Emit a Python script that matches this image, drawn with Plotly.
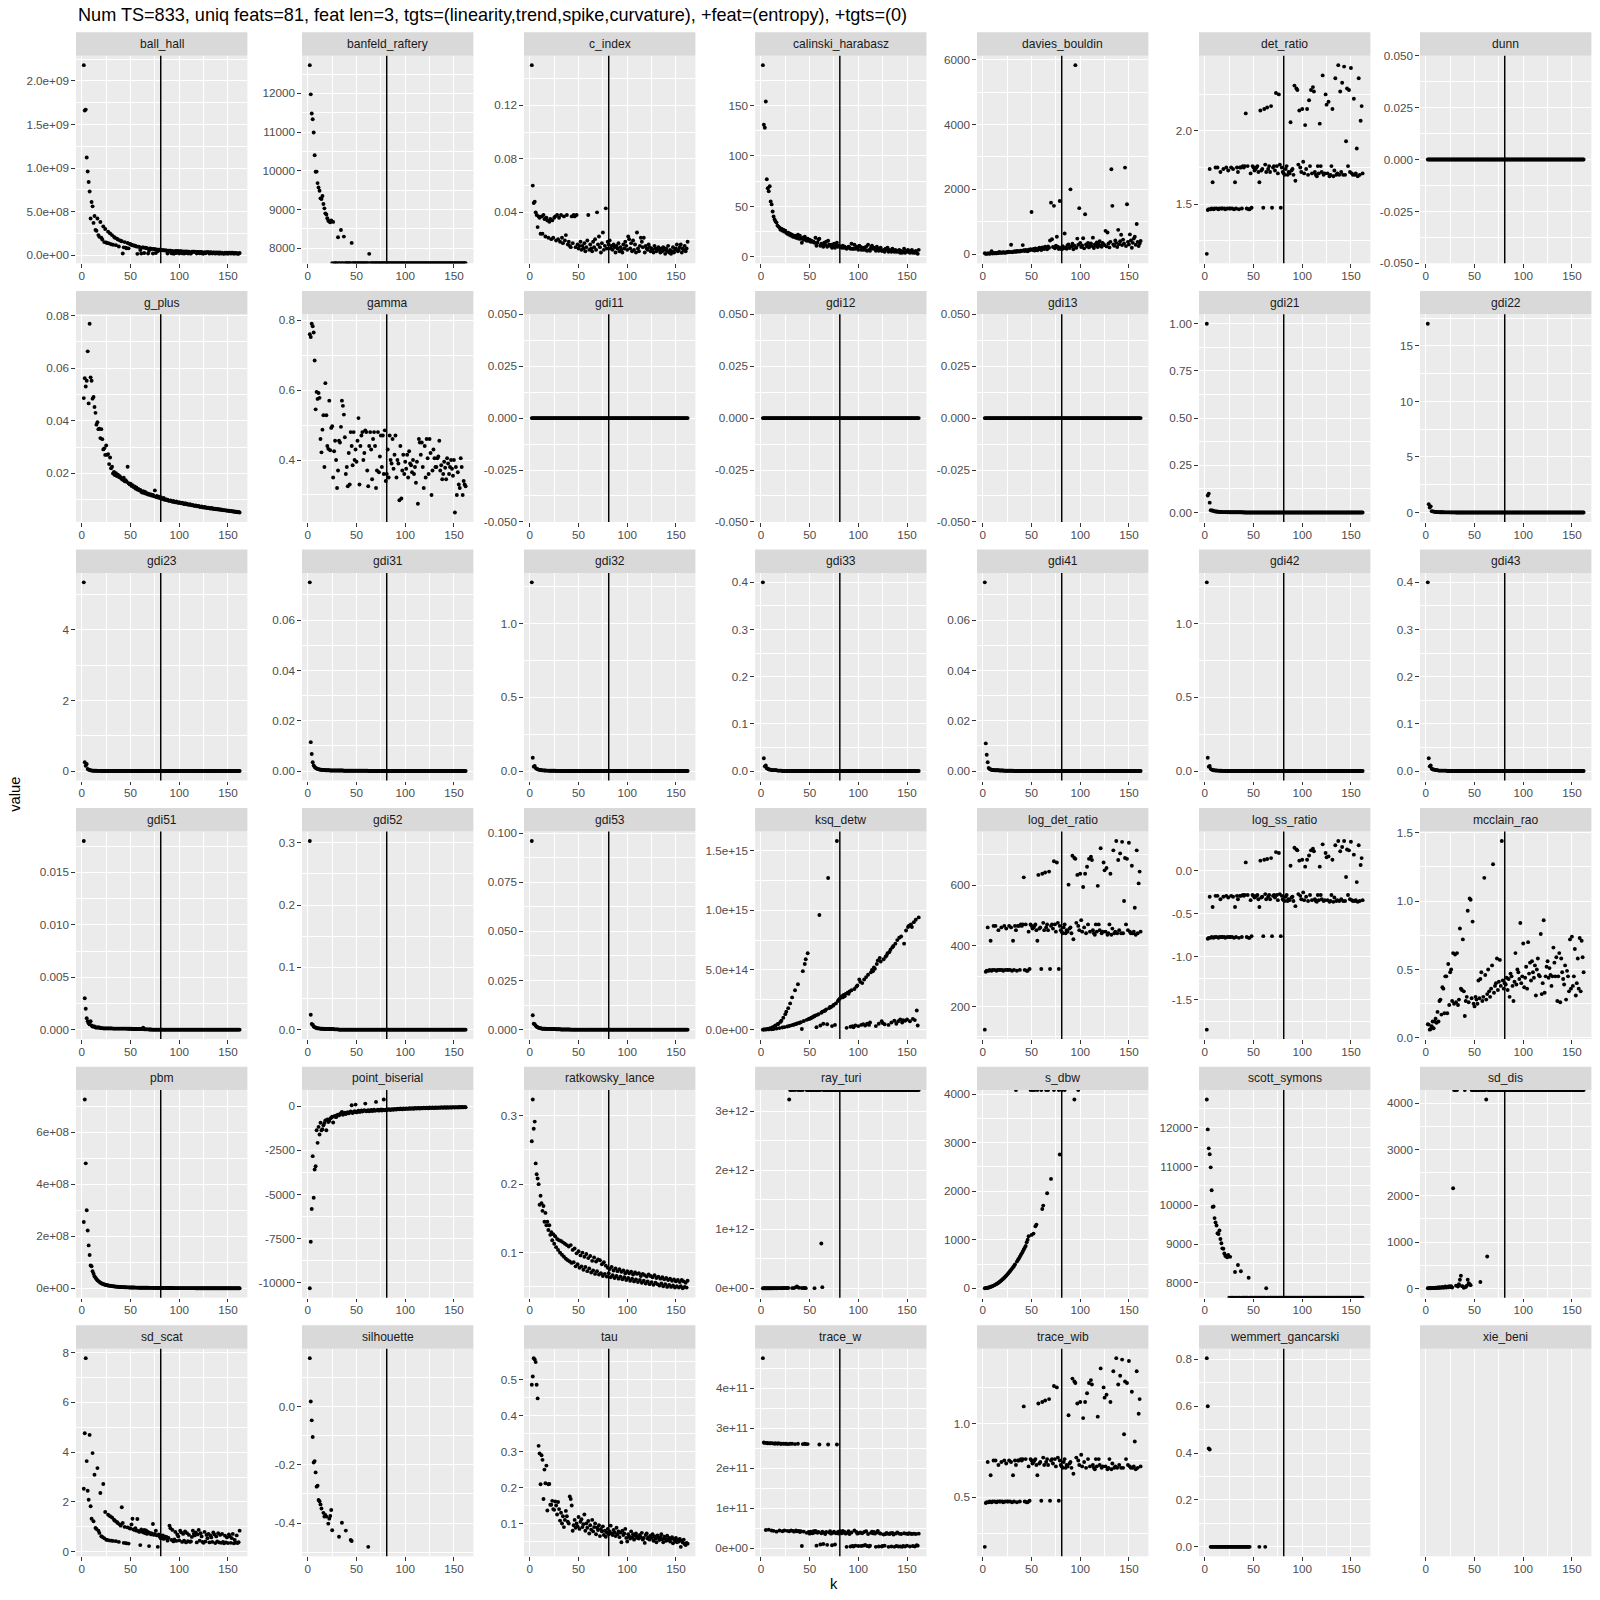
import math
import plotly.graph_objects as go

INF = float("inf")
NINF = float("-inf")

TITLE = "Num TS=833, uniq feats=81, feat len=3, tgts=(linearity,trend,spike,curvature), +feat=(entropy), +tgts=(0)"
X_TITLE = "k"
Y_TITLE = "value"
VLINE_K = 81

K = list(range(2, 163))
X_TICK_LABELS = ["0", "50", "100", "150"]

# ---------------------------------------------------------------- data (k = 2 .. 162)
BALL_HALL = [
    2.18e9, 1.66e9, 1.67e9, 1.12e9, 0.96e9, 0.84e9, 0.73e9, 0.42e9, 0.61e9, 0.56e9,
    0.37e9, 0.45e9, 0.29e9, 0.28e9, 0.42e9, 0.23e9, 0.21e9, 0.38e9, 0.20e9, 0.18e9,
    0.33e9, 0.15e9, 0.30e9, 0.145e9, 0.14e9, 0.27e9, 0.135e9, 0.25e9, 0.125e9, 0.23e9,
    0.12e9, 0.21e9, 0.20e9, 0.115e9, 0.19e9, 0.18e9, 0.10e9, 0.17e9, 0.165e9, 0.16e9,
    0.02e9, 0.09e9, 0.15e9, 0.085e9, 0.08e9, 0.14e9, 0.078e9, 0.13e9, 0.125e9, 0.12e9,
    0.115e9, 0.11e9, 0.112e9, 0.105e9, 0.10e9, 0.015e9, 0.098e9, 0.095e9, 0.06e9, 0.02e9,
    0.09e9, 0.088e9, 0.025e9, 0.085e9, 0.082e9, 0.08e9, 0.02e9, 0.05e9, 0.076e9, 0.074e9,
    0.072e9, 0.02e9, 0.07e9, 0.068e9, 0.025e9, 0.066e9, 0.045e9, 0.064e9, 0.062e9, 0.06e9,
    0.058e9, 0.057e9, 0.056e9, 0.055e9, 0.054e9, 0.053e9, 0.02e9, 0.052e9, 0.051e9, 0.05e9,
    0.022e9, 0.049e9, 0.018e9, 0.02e9, 0.048e9, 0.025e9, 0.047e9, 0.046e9, 0.02e9, 0.045e9,
    0.045e9, 0.022e9, 0.044e9, 0.018e9, 0.043e9, 0.025e9, 0.042e9, 0.02e9, 0.041e9, 0.022e9,
    0.018e9, 0.04e9, 0.04e9, 0.039e9, 0.039e9, 0.038e9, 0.02e9, 0.037e9, 0.037e9, 0.022e9,
    0.036e9, 0.036e9, 0.018e9, 0.02e9, 0.035e9, 0.022e9, 0.034e9, 0.034e9, 0.033e9, 0.018e9,
    0.033e9, 0.032e9, 0.02e9, 0.032e9, 0.031e9, 0.018e9, 0.031e9, 0.022e9, 0.030e9, 0.017e9,
    0.030e9, 0.02e9, 0.029e9, 0.018e9, 0.016e9, 0.029e9, 0.02e9, 0.028e9, 0.017e9, 0.028e9,
    0.027e9, 0.018e9, 0.027e9, 0.027e9, 0.016e9, 0.026e9, 0.019e9, 0.026e9, 0.015e9, 0.017e9,
    0.025e9,
]
BANFELD_RAFTERY = [
    12730, 11975, 11480, 11330, 10990, 10403, 9974, 9980, 9682, 9571,
    9485, 9288, 9270, 9350, 9142, 9030, 8901, 8870, 8773, 8712,
    8687, 8670, 8720, NINF, 8680, NINF, NINF, NINF, NINF, 8283,
    NINF, NINF, 8472, NINF, NINF, 8300, NINF, NINF, NINF, NINF,
    NINF, NINF, NINF, 8137, NINF, NINF, NINF, NINF, NINF, NINF,
    NINF, NINF, NINF, NINF, NINF, NINF, NINF, NINF, NINF, NINF,
    NINF, 7854, NINF, NINF, NINF, NINF, NINF, NINF, NINF, NINF,
    NINF, NINF, NINF, NINF, NINF, NINF, NINF, NINF, NINF, NINF,
    NINF, NINF, NINF, NINF, NINF, NINF, NINF, NINF, NINF, NINF,
    NINF, NINF, NINF, NINF, NINF, NINF, NINF, NINF, NINF, NINF,
    NINF, NINF, NINF, NINF, NINF, NINF, NINF, NINF, NINF, NINF,
    NINF, NINF, NINF, NINF, NINF, NINF, NINF, NINF, NINF, NINF,
    NINF, NINF, NINF, NINF, NINF, NINF, NINF, NINF, NINF, NINF,
    NINF, NINF, NINF, NINF, NINF, NINF, NINF, NINF, NINF, NINF,
    NINF, NINF, NINF, NINF, NINF, NINF, NINF, NINF, NINF, NINF,
    NINF, NINF, NINF, NINF, NINF, NINF, NINF, NINF, NINF, NINF,
    NINF,
]
C_INDEX = [
    0.150, 0.060, 0.047, 0.048, 0.040, 0.038, 0.029, 0.037, 0.036, 0.024,
    0.037, 0.024, 0.038, 0.035, 0.022, 0.036, 0.034, 0.021, 0.033, 0.035,
    0.020, 0.034, 0.021, 0.036, 0.037, 0.019, 0.038, 0.020, 0.036, 0.018,
    0.038, 0.021, 0.017, 0.037, 0.019, 0.023, 0.038, 0.016, 0.018, 0.015,
    0.014, 0.037, 0.017, 0.038, 0.037, 0.014, 0.038, 0.016, 0.013, 0.015,
    0.018, 0.012, 0.015, 0.013, 0.017, 0.011, 0.014, 0.019, 0.038, 0.012,
    0.016, 0.013, 0.011, 0.018, 0.014, 0.020, 0.012, 0.040, 0.016, 0.022,
    0.014, 0.010, 0.017, 0.025, 0.012, 0.015, 0.043, 0.013, 0.018, 0.016,
    0.019, 0.013, 0.015, 0.012, 0.016, 0.014, 0.010, 0.015, 0.013, 0.017,
    0.011, 0.014, 0.012, 0.010, 0.016, 0.013, 0.018, 0.015, 0.012, 0.022,
    0.020, 0.013, 0.017, 0.011, 0.019, 0.012, 0.016, 0.010, 0.025, 0.013,
    0.011, 0.015, 0.021, 0.018, 0.014, 0.021, 0.010, 0.015, 0.013, 0.012,
    0.016, 0.014, 0.011, 0.013, 0.012, 0.010, 0.015, 0.013, 0.011, 0.012,
    0.014, 0.012, 0.010, 0.013, 0.011, 0.014, 0.012, 0.009, 0.013, 0.011,
    0.015, 0.010, 0.012, 0.009, 0.011, 0.014, 0.010, 0.012, 0.013, 0.016,
    0.011, 0.012, 0.014, 0.016, 0.010, 0.013, 0.012, 0.015, 0.011, 0.013,
    0.018,
]
CALINSKI_HARABASZ = [
    190, 131, 128, 154, 77, 68, 65, 70, 55, 52,
    45, 40, 37, 35, 34, 31, 30, 29, 27, 28,
    26, 27, 25, 26, 24, 23, 24, 22, 23, 21,
    22, 20, 20, 21, 19, 19, 22, 18, 21, 18,
    14, 19, 17, 20, 18, 16, 18, 16, 17, 15,
    16, 15, 15, 14, 19, 11, 14, 17, 18, 11,
    13, 12, 10, 14, 12, 15, 10, 16, 12, 11,
    12, 9, 11, 13, 9, 11, 14, 10, 11, 10,
    10, 9, 11, 9, 10, 9, 8, 9, 10, 9,
    8, 13, 8, 8, 12, 8, 10, 9, 7, 11,
    10, 7, 9, 7, 9, 7, 10, 6, 12, 7,
    6, 9, 11, 8, 9, 8, 6, 10, 8, 6,
    8, 9, 6, 6, 7, 5, 8, 7, 9, 5,
    7, 6, 5, 8, 6, 5, 7, 5, 6, 5,
    7, 4, 6, 4, 5, 8, 4, 6, 5, 7,
    5, 4, 6, 7, 4, 5, 4, 6, 4, 3,
    7,
]
DAVIES_BOULDIN = [
    30, 10, 15, 20, 25, 15, 30, 90, 20, 35,
    25, 40, 30, 45, 35, 70, 40, 50, 45, 60,
    50, 40, 65, 55, 75, 60, 70, 290, 60, 80,
    75, 90, 70, 100, 85, 95, 80, 110, 95, 280,
    120, 100, 130, 110, 90, 140, 120, 150, 1300, 130,
    160, 110, 180, 140, 120, 170, 200, 150, 130, 210,
    180, 160, 230, 190, 150, 240, 200, 420, 1590, 460,
    220, 1490, 180, 260, 540, 230, 160, 1640, 200, 150,
    250, 180, 640, 210, 170, 280, 300, 190, 2000, 240,
    320, 150, 260, 5830, 200, 480, 290, 1420, 350, 220,
    270, 490, 180, 1230, 300, 240, 350, 210, 280, 330,
    250, 510, 190, 300, 270, 360, 220, 310, 400, 260,
    230, 350, 300, 280, 720, 240, 670, 330, 210, 380,
    2620, 1490, 300, 260, 420, 350, 220, 750, 310, 400,
    600, 280, 450, 330, 2670, 250, 1540, 380, 300, 610,
    420, 200, 350, 480, 540, 290, 930, 380, 250, 330,
    410,
]
DET_RATIO = [
    1.16, 1.46, 1.465, 1.74, 1.465, 1.47, 1.65, 1.465, 1.47, 1.75,
    1.47, 1.75, 1.465, 1.47, 1.72, 1.47, 1.47, 1.74, 1.47, 1.465,
    1.75, 1.47, 1.73, 1.47, 1.47, 1.75, 1.47, 1.74, 1.465, 1.65,
    1.47, 1.75, 1.72, 1.465, 1.75, 1.75, 1.47, 1.76, 1.75, 1.76,
    2.12, 1.47, 1.76, 1.465, 1.465, 1.71, 1.475, 1.76, 1.75, 1.73,
    1.74, 1.75, 1.76, 1.72, 1.65, 2.14, 1.73, 1.74, 1.475, 2.15,
    1.77, 1.72, 2.16, 1.74, 1.76, 1.72, 2.17, 1.475, 1.75, 1.76,
    1.73, 2.26, 1.76, 1.71, 2.25, 1.77, 1.475, 1.75, 1.72, 1.71,
    1.70, 1.74, 1.76, 1.70, 1.72, 1.71, 2.06, 1.73, 1.74, 1.70,
    2.31, 1.66, 2.29, 2.28, 1.77, 2.14, 1.75, 1.72, 2.15, 1.79,
    1.71, 2.04, 1.74, 2.15, 1.70, 2.21, 1.76, 2.28, 1.71, 2.30,
    2.27, 1.72, 1.70, 1.69, 1.76, 1.71, 2.05, 1.76, 1.72, 2.38,
    1.70, 1.71, 2.25, 2.18, 1.71, 2.20, 1.69, 1.70, 1.76, 2.15,
    1.69, 1.73, 2.36, 1.70, 1.71, 2.45, 1.70, 2.27, 1.72, 2.33,
    1.70, 2.44, 1.70, 1.93, 2.29, 1.76, 2.28, 1.72, 2.43, 1.71,
    1.70, 2.22, 1.70, 1.71, 1.88, 1.69, 2.36, 1.70, 2.07, 2.17,
    1.71,
]
DUNN = [
    0, 0, 0, 0, 0, 0, 0, 0, 0, 0,
    0, 0, 0, 0, 0, 0, 0, 0, 0, 0,
    0, 0, 0, 0, 0, 0, 0, 0, 0, 0,
    0, 0, 0, 0, 0, 0, 0, 0, 0, 0,
    0, 0, 0, 0, 0, 0, 0, 0, 0, 0,
    0, 0, 0, 0, 0, 0, 0, 0, 0, 0,
    0, 0, 0, 0, 0, 0, 0, 0, 0, 0,
    0, 0, 0, 0, 0, 0, 0, 0, 0, 0,
    0, 0, 0, 0, 0, 0, 0, 0, 0, 0,
    0, 0, 0, 0, 0, 0, 0, 0, 0, 0,
    0, 0, 0, 0, 0, 0, 0, 0, 0, 0,
    0, 0, 0, 0, 0, 0, 0, 0, 0, 0,
    0, 0, 0, 0, 0, 0, 0, 0, 0, 0,
    0, 0, 0, 0, 0, 0, 0, 0, 0, 0,
    0, 0, 0, 0, 0, 0, 0, 0, 0, 0,
    0, 0, 0, 0, 0, 0, 0, 0, 0, 0,
    0,
]
G_PLUS = [
    0.0486, 0.0562, 0.0530, 0.0552, 0.0664, 0.0466, 0.0769, 0.0565, 0.0552, 0.0484,
    0.0490, 0.0452, 0.0430, 0.0385, 0.0394, 0.0368, 0.0370, 0.0334, 0.0368, 0.0330,
    0.0291, 0.0295, 0.0270, 0.0306, 0.0270, 0.0273, 0.0235, 0.0260, 0.0219, 0.0225,
    0.0199, 0.0205, 0.0193, 0.0200, 0.0190, 0.0195, 0.0186, 0.0189, 0.0182, 0.0178,
    0.0175, 0.0183, 0.0170, 0.0174, 0.0168, 0.0225, 0.0162, 0.0158, 0.0160, 0.0152,
    0.0155, 0.0148, 0.0150, 0.0142, 0.0146, 0.0138, 0.0140, 0.0135, 0.0137, 0.0130,
    0.0127, 0.0132, 0.0125, 0.0129, 0.0122, 0.0124, 0.0119, 0.0121, 0.0117, 0.0120,
    0.0115, 0.0118, 0.0113, 0.0135, 0.0110, 0.0114, 0.0108, 0.0111, 0.0106, 0.0109,
    0.0104, 0.0102, 0.0106, 0.0099, 0.0101, 0.0098, 0.0100, 0.0096, 0.0095, 0.0097,
    0.0094, 0.0092, 0.0095, 0.0091, 0.0090, 0.0093, 0.0089, 0.0088, 0.0090, 0.0087,
    0.0086, 0.0088, 0.0085, 0.0083, 0.0086, 0.0082, 0.0084, 0.0081, 0.0080, 0.0082,
    0.0079, 0.0078, 0.0080, 0.0077, 0.0076, 0.0078, 0.0075, 0.0074, 0.0076, 0.0073,
    0.0072, 0.0074, 0.0071, 0.0070, 0.0072, 0.0069, 0.0070, 0.0068, 0.0069, 0.0067,
    0.0066, 0.0068, 0.0065, 0.0066, 0.0064, 0.0065, 0.0063, 0.0064, 0.0062, 0.0063,
    0.0061, 0.0062, 0.0060, 0.0061, 0.0059, 0.0060, 0.0058, 0.0059, 0.0057, 0.0058,
    0.0056, 0.0057, 0.0055, 0.0056, 0.0054, 0.0055, 0.0053, 0.0054, 0.0052, 0.0053,
    0.0051,
]
GAMMA = [
    0.760, 0.752, 0.790, 0.783, 0.765, 0.685, 0.545, 0.595, 0.575, 0.592,
    0.578, 0.460, 0.422, 0.487, 0.528, 0.380, 0.620, 0.528, 0.440, 0.432,
    0.570, 0.428, 0.492, 0.497, 0.350, 0.425, 0.455, 0.400, 0.320, 0.370,
    0.455, 0.450, 0.495, 0.570, 0.555, 0.530, 0.465, 0.360, 0.380, 0.325,
    0.420, 0.330, 0.480, 0.440, 0.385, 0.480, 0.400, 0.430, 0.395, 0.455,
    0.520, 0.330, 0.440, 0.470, 0.480, 0.400, 0.420, 0.485, 0.480, 0.370,
    0.325, 0.440, 0.480, 0.430, 0.345, 0.460, 0.480, 0.440, 0.320, 0.370,
    0.480, 0.365, 0.410, 0.470, 0.380, 0.470, 0.360, 0.485, 0.340, 0.360,
    0.430, 0.350, 0.470, 0.400, 0.390, 0.460, 0.375, 0.415, 0.470, 0.350,
    0.400, 0.390, 0.285, 0.440, 0.290, 0.370, 0.415, 0.360, 0.395, 0.375,
    0.415, 0.350, 0.425, 0.390, 0.385, 0.365, 0.400, 0.360, 0.380, 0.335,
    0.395, 0.275, 0.460, 0.450, 0.415, 0.450, 0.380, 0.320, 0.440, 0.350,
    0.460, 0.405, 0.360, 0.460, 0.420, 0.300, 0.370, 0.430, 0.405, 0.380,
    0.380, 0.405, 0.410, 0.455, 0.370, 0.385, 0.345, 0.360, 0.395, 0.378,
    0.345, 0.405, 0.390, 0.360, 0.380, 0.400, 0.375, 0.355, 0.400, 0.250,
    0.380, 0.300, 0.365, 0.330, 0.320, 0.405, 0.380, 0.300, 0.340, 0.330,
    0.325,
]
GDI11 = [
    0, 0, 0, 0, 0, 0, 0, 0, 0, 0,
    0, 0, 0, 0, 0, 0, 0, 0, 0, 0,
    0, 0, 0, 0, 0, 0, 0, 0, 0, 0,
    0, 0, 0, 0, 0, 0, 0, 0, 0, 0,
    0, 0, 0, 0, 0, 0, 0, 0, 0, 0,
    0, 0, 0, 0, 0, 0, 0, 0, 0, 0,
    0, 0, 0, 0, 0, 0, 0, 0, 0, 0,
    0, 0, 0, 0, 0, 0, 0, 0, 0, 0,
    0, 0, 0, 0, 0, 0, 0, 0, 0, 0,
    0, 0, 0, 0, 0, 0, 0, 0, 0, 0,
    0, 0, 0, 0, 0, 0, 0, 0, 0, 0,
    0, 0, 0, 0, 0, 0, 0, 0, 0, 0,
    0, 0, 0, 0, 0, 0, 0, 0, 0, 0,
    0, 0, 0, 0, 0, 0, 0, 0, 0, 0,
    0, 0, 0, 0, 0, 0, 0, 0, 0, 0,
    0, 0, 0, 0, 0, 0, 0, 0, 0, 0,
    0,
]
GDI12 = [
    0, 0, 0, 0, 0, 0, 0, 0, 0, 0,
    0, 0, 0, 0, 0, 0, 0, 0, 0, 0,
    0, 0, 0, 0, 0, 0, 0, 0, 0, 0,
    0, 0, 0, 0, 0, 0, 0, 0, 0, 0,
    0, 0, 0, 0, 0, 0, 0, 0, 0, 0,
    0, 0, 0, 0, 0, 0, 0, 0, 0, 0,
    0, 0, 0, 0, 0, 0, 0, 0, 0, 0,
    0, 0, 0, 0, 0, 0, 0, 0, 0, 0,
    0, 0, 0, 0, 0, 0, 0, 0, 0, 0,
    0, 0, 0, 0, 0, 0, 0, 0, 0, 0,
    0, 0, 0, 0, 0, 0, 0, 0, 0, 0,
    0, 0, 0, 0, 0, 0, 0, 0, 0, 0,
    0, 0, 0, 0, 0, 0, 0, 0, 0, 0,
    0, 0, 0, 0, 0, 0, 0, 0, 0, 0,
    0, 0, 0, 0, 0, 0, 0, 0, 0, 0,
    0, 0, 0, 0, 0, 0, 0, 0, 0, 0,
    0,
]
GDI13 = [
    0, 0, 0, 0, 0, 0, 0, 0, 0, 0,
    0, 0, 0, 0, 0, 0, 0, 0, 0, 0,
    0, 0, 0, 0, 0, 0, 0, 0, 0, 0,
    0, 0, 0, 0, 0, 0, 0, 0, 0, 0,
    0, 0, 0, 0, 0, 0, 0, 0, 0, 0,
    0, 0, 0, 0, 0, 0, 0, 0, 0, 0,
    0, 0, 0, 0, 0, 0, 0, 0, 0, 0,
    0, 0, 0, 0, 0, 0, 0, 0, 0, 0,
    0, 0, 0, 0, 0, 0, 0, 0, 0, 0,
    0, 0, 0, 0, 0, 0, 0, 0, 0, 0,
    0, 0, 0, 0, 0, 0, 0, 0, 0, 0,
    0, 0, 0, 0, 0, 0, 0, 0, 0, 0,
    0, 0, 0, 0, 0, 0, 0, 0, 0, 0,
    0, 0, 0, 0, 0, 0, 0, 0, 0, 0,
    0, 0, 0, 0, 0, 0, 0, 0, 0, 0,
    0, 0, 0, 0, 0, 0, 0, 0, 0, 0,
    0,
]
GDI21 = [
    1.00, 0.090, 0.100, 0.052, 0.012, 0.010, 0.011, 0.008, 0.006, 0.005,
    0.005, 0.004, 0.004, 0.003, 0.003, 0.003, 0.002, 0.002, 0.002, 0.002,
    0.002, 0.001, 0.002, 0.001, 0.001, 0.001, 0.001, 0.001, 0.001, 0.001,
    0.001, 0.001, 0.001, 0.001, 0.001, 0.001, 0.001, 0, 0.001, 0,
    0, 0, 0, 0, 0, 0, 0, 0, 0, 0,
    0, 0, 0, 0, 0, 0, 0, 0, 0, 0,
    0, 0, 0, 0, 0, 0, 0, 0, 0, 0,
    0, 0, 0, 0, 0, 0, 0, 0, 0, 0,
    0, 0, 0, 0, 0, 0, 0, 0, 0, 0,
    0, 0, 0, 0, 0, 0, 0, 0, 0, 0,
    0, 0, 0, 0, 0, 0, 0, 0, 0, 0,
    0, 0, 0, 0, 0, 0, 0, 0, 0, 0,
    0, 0, 0, 0, 0, 0, 0, 0, 0, 0,
    0, 0, 0, 0, 0, 0, 0, 0, 0, 0,
    0, 0, 0, 0, 0, 0, 0, 0, 0, 0,
    0, 0, 0, 0, 0, 0, 0, 0, 0, 0,
    0,
]
GDI22 = [
    17.0, 0.75, 0.45, 0.55, 0.12, 0.10, 0.08, 0.06, 0.05, 0.04,
    0.035, 0.03, 0.025, 0.02, 0.02, 0.015, 0.015, 0.01, 0.01, 0.01,
    0.01, 0.008, 0.008, 0.006, 0.006, 0.005, 0.005, 0.004, 0.004, 0.003,
    0.003, 0.002, 0.002, 0.002, 0.002, 0.001, 0.001, 0.001, 0.001, 0.001,
    0, 0, 0, 0, 0, 0, 0, 0, 0, 0,
    0, 0, 0, 0, 0, 0, 0, 0, 0, 0,
    0, 0, 0, 0, 0, 0, 0, 0, 0, 0,
    0, 0, 0, 0, 0, 0, 0, 0, 0, 0,
    0, 0, 0, 0, 0, 0, 0, 0, 0, 0,
    0, 0, 0, 0, 0, 0, 0, 0, 0, 0,
    0, 0, 0, 0, 0, 0, 0, 0, 0, 0,
    0, 0, 0, 0, 0, 0, 0, 0, 0, 0,
    0, 0, 0, 0, 0, 0, 0, 0, 0, 0,
    0, 0, 0, 0, 0, 0, 0, 0, 0, 0,
    0, 0, 0, 0, 0, 0, 0, 0, 0, 0,
    0, 0, 0, 0, 0, 0, 0, 0, 0, 0,
    0,
]
GDI23 = [
    5.35, 0.25, 0.15, 0.20, 0.06, 0.04, 0.03, 0.02, 0.015, 0.012,
    0.01, 0.009, 0.008, 0.007, 0.006, 0.005, 0.005, 0.004, 0.004, 0.003,
    0.003, 0.003, 0.002, 0.002, 0.002, 0.002, 0.001, 0.001, 0.001, 0.001,
    0, 0, 0, 0, 0, 0, 0, 0, 0, 0,
    0, 0, 0, 0, 0, 0, 0, 0, 0, 0,
    0, 0, 0, 0, 0, 0, 0, 0, 0, 0,
    0, 0, 0, 0, 0, 0, 0, 0, 0, 0,
    0, 0, 0, 0, 0, 0, 0, 0, 0, 0,
    0, 0, 0, 0, 0, 0, 0, 0, 0, 0,
    0, 0, 0, 0, 0, 0, 0, 0, 0, 0,
    0, 0, 0, 0, 0, 0, 0, 0, 0, 0,
    0, 0, 0, 0, 0, 0, 0, 0, 0, 0,
    0, 0, 0, 0, 0, 0, 0, 0, 0, 0,
    0, 0, 0, 0, 0, 0, 0, 0, 0, 0,
    0, 0, 0, 0, 0, 0, 0, 0, 0, 0,
    0, 0, 0, 0, 0, 0, 0, 0, 0, 0,
    0,
]
GDI31 = [
    0.075, 0.0115, 0.0068, 0.0035, 0.0022, 0.0016, 0.0012, 0.0010, 0.0008, 0.0007,
    0.0006, 0.0005, 0.0005, 0.0004, 0.0004, 0.0004, 0.0003, 0.0003, 0.0003, 0.0003,
    0.0003, 0.0002, 0.0002, 0.0002, 0.0002, 0.0002, 0.0002, 0.0002, 0.0002, 0.0002,
    0.0002, 0.0002, 0.0002, 0.0002, 0.0002, 0.0001, 0.0001, 0.0001, 0.0001, 0.0001,
    0.0001, 0.0001, 0.0001, 0.0001, 0.0001, 0.0001, 0.0001, 0.0001, 0.0001, 0.0001,
    0.0001, 0.0001, 0.0001, 0.0001, 0.0001, 0.0001, 0.0001, 0.0001, 0.0001, 0.0001,
    0, 0, 0, 0, 0, 0, 0, 0, 0, 0,
    0, 0, 0, 0, 0, 0, 0, 0, 0, 0,
    0, 0, 0, 0, 0, 0, 0, 0, 0, 0,
    0, 0, 0, 0, 0, 0, 0, 0, 0, 0,
    0, 0, 0, 0, 0, 0, 0, 0, 0, 0,
    0, 0, 0, 0, 0, 0, 0, 0, 0, 0,
    0, 0, 0, 0, 0, 0, 0, 0, 0, 0,
    0, 0, 0, 0, 0, 0, 0, 0, 0, 0,
    0, 0, 0, 0, 0, 0, 0, 0, 0, 0,
    0, 0, 0, 0, 0, 0, 0, 0, 0, 0,
    0,
]
GDI32 = [
    1.28, 0.09, 0.03, 0.035, 0.02, 0.015, 0.012, 0.010, 0.008, 0.007,
    0.006, 0.005, 0.005, 0.004, 0.004, 0.003, 0.003, 0.003, 0.002, 0.002,
    0.002, 0.002, 0.002, 0.002, 0.002, 0.001, 0.001, 0.001, 0.001, 0.001,
    0, 0, 0, 0, 0, 0, 0, 0, 0, 0,
    0, 0, 0, 0, 0, 0, 0, 0, 0, 0,
    0, 0, 0, 0, 0, 0, 0, 0, 0, 0,
    0, 0, 0, 0, 0, 0, 0, 0, 0, 0,
    0, 0, 0, 0, 0, 0, 0, 0, 0, 0,
    0, 0, 0, 0, 0, 0, 0, 0, 0, 0,
    0, 0, 0, 0, 0, 0, 0, 0, 0, 0,
    0, 0, 0, 0, 0, 0, 0, 0, 0, 0,
    0, 0, 0, 0, 0, 0, 0, 0, 0, 0,
    0, 0, 0, 0, 0, 0, 0, 0, 0, 0,
    0, 0, 0, 0, 0, 0, 0, 0, 0, 0,
    0, 0, 0, 0, 0, 0, 0, 0, 0, 0,
    0, 0, 0, 0, 0, 0, 0, 0, 0, 0,
    0,
]
GDI33 = [
    0.40, 0.027, 0.010, 0.012, 0.006, 0.005, 0.004, 0.003, 0.003, 0.002,
    0.002, 0.002, 0.002, 0.002, 0.002, 0.001, 0.001, 0.001, 0.001, 0.001,
    0, 0, 0, 0, 0, 0, 0, 0, 0, 0,
    0, 0, 0, 0, 0, 0, 0, 0, 0, 0,
    0, 0, 0, 0, 0, 0, 0, 0, 0, 0,
    0, 0, 0, 0, 0, 0, 0, 0, 0, 0,
    0, 0, 0, 0, 0, 0, 0, 0, 0, 0,
    0, 0, 0, 0, 0, 0, 0, 0, 0, 0,
    0, 0, 0, 0, 0, 0, 0, 0, 0, 0,
    0, 0, 0, 0, 0, 0, 0, 0, 0, 0,
    0, 0, 0, 0, 0, 0, 0, 0, 0, 0,
    0, 0, 0, 0, 0, 0, 0, 0, 0, 0,
    0, 0, 0, 0, 0, 0, 0, 0, 0, 0,
    0, 0, 0, 0, 0, 0, 0, 0, 0, 0,
    0, 0, 0, 0, 0, 0, 0, 0, 0, 0,
    0, 0, 0, 0, 0, 0, 0, 0, 0, 0,
    0,
]
GDI41 = [
    0.075, 0.011, 0.0065, 0.0035, 0.0012, 0.0008, 0.0006, 0.0005, 0.0004, 0.0004,
    0.0003, 0.0003, 0.0003, 0.0003, 0.0003, 0.0002, 0.0002, 0.0002, 0.0002, 0.0002,
    0.0001, 0.0001, 0.0001, 0.0001, 0.0001, 0.0001, 0.0001, 0.0001, 0.0001, 0.0001,
    0, 0, 0, 0, 0, 0, 0, 0, 0, 0,
    0, 0, 0, 0, 0, 0, 0, 0, 0, 0,
    0, 0, 0, 0, 0, 0, 0, 0, 0, 0,
    0, 0, 0, 0, 0, 0, 0, 0, 0, 0,
    0, 0, 0, 0, 0, 0, 0, 0, 0, 0,
    0, 0, 0, 0, 0, 0, 0, 0, 0, 0,
    0, 0, 0, 0, 0, 0, 0, 0, 0, 0,
    0, 0, 0, 0, 0, 0, 0, 0, 0, 0,
    0, 0, 0, 0, 0, 0, 0, 0, 0, 0,
    0, 0, 0, 0, 0, 0, 0, 0, 0, 0,
    0, 0, 0, 0, 0, 0, 0, 0, 0, 0,
    0, 0, 0, 0, 0, 0, 0, 0, 0, 0,
    0, 0, 0, 0, 0, 0, 0, 0, 0, 0,
    0,
]
GDI42 = [
    1.28, 0.09, 0.03, 0.035, 0.015, 0.010, 0.008, 0.006, 0.005, 0.004,
    0.004, 0.003, 0.003, 0.002, 0.002, 0.002, 0.001, 0.001, 0.001, 0.001,
    0, 0, 0, 0, 0, 0, 0, 0, 0, 0,
    0, 0, 0, 0, 0, 0, 0, 0, 0, 0,
    0, 0, 0, 0, 0, 0, 0, 0, 0, 0,
    0, 0, 0, 0, 0, 0, 0, 0, 0, 0,
    0, 0, 0, 0, 0, 0, 0, 0, 0, 0,
    0, 0, 0, 0, 0, 0, 0, 0, 0, 0,
    0, 0, 0, 0, 0, 0, 0, 0, 0, 0,
    0, 0, 0, 0, 0, 0, 0, 0, 0, 0,
    0, 0, 0, 0, 0, 0, 0, 0, 0, 0,
    0, 0, 0, 0, 0, 0, 0, 0, 0, 0,
    0, 0, 0, 0, 0, 0, 0, 0, 0, 0,
    0, 0, 0, 0, 0, 0, 0, 0, 0, 0,
    0, 0, 0, 0, 0, 0, 0, 0, 0, 0,
    0, 0, 0, 0, 0, 0, 0, 0, 0, 0,
    0,
]
GDI43 = [
    0.40, 0.027, 0.010, 0.012, 0.005, 0.004, 0.003, 0.003, 0.002, 0.002,
    0.002, 0.001, 0.001, 0.001, 0.001, 0.001, 0.001, 0.001, 0.001, 0.001,
    0, 0, 0, 0, 0, 0, 0, 0, 0, 0,
    0, 0, 0, 0, 0, 0, 0, 0, 0, 0,
    0, 0, 0, 0, 0, 0, 0, 0, 0, 0,
    0, 0, 0, 0, 0, 0, 0, 0, 0, 0,
    0, 0, 0, 0, 0, 0, 0, 0, 0, 0,
    0, 0, 0, 0, 0, 0, 0, 0, 0, 0,
    0, 0, 0, 0, 0, 0, 0, 0, 0, 0,
    0, 0, 0, 0, 0, 0, 0, 0, 0, 0,
    0, 0, 0, 0, 0, 0, 0, 0, 0, 0,
    0, 0, 0, 0, 0, 0, 0, 0, 0, 0,
    0, 0, 0, 0, 0, 0, 0, 0, 0, 0,
    0, 0, 0, 0, 0, 0, 0, 0, 0, 0,
    0, 0, 0, 0, 0, 0, 0, 0, 0, 0,
    0, 0, 0, 0, 0, 0, 0, 0, 0, 0,
    0,
]
GDI51 = [
    0.018, 0.003, 0.002, 0.0011, 0.0008, 0.0006, 0.0005, 0.0008, 0.0004, 0.0003,
    0.0003, 0.0003, 0.0002, 0.0002, 0.0002, 0.0002, 0.0002, 0.00015, 0.00015, 0.00015,
    0.00012, 0.00012, 0.00012, 0.00012, 0.00012, 0.00012, 0.00012, 0.00012, 0.00012, 0.00012,
    0.0001, 0.0001, 0.0001, 0.0001, 0.0001, 0.0001, 0.0001, 0.0001, 0.0001, 0.0001,
    0.0001, 0.0001, 0.0001, 0.0001, 0.0001, 0.00008, 0.00008, 0.00008, 0.00008, 0.00008,
    0.00006, 0.00006, 0.00006, 0.00006, 0.00006, 0.00006, 0.00006, 0.00006, 0.00006, 0.00006,
    0.00005, 0.00018, 0.00004, 0.00004, 0.00003, 0.00003, 0.00003, 0.00002, 0.00002, 0.00002,
    0, 0, 0, 0, 0, 0, 0, 0, 0, 0,
    0, 0, 0, 0, 0, 0, 0, 0, 0, 0,
    0, 0, 0, 0, 0, 0, 0, 0, 0, 0,
    0, 0, 0, 0, 0, 0, 0, 0, 0, 0,
    0, 0, 0, 0, 0, 0, 0, 0, 0, 0,
    0, 0, 0, 0, 0, 0, 0, 0, 0, 0,
    0, 0, 0, 0, 0, 0, 0, 0, 0, 0,
    0, 0, 0, 0, 0, 0, 0, 0, 0, 0,
    0, 0, 0, 0, 0, 0, 0, 0, 0, 0,
    0,
]
GDI52 = [
    0.303, 0.024, 0.009, 0.008, 0.005, 0.004, 0.003, 0.003, 0.002, 0.002,
    0.002, 0.0015, 0.0015, 0.0015, 0.0015, 0.001, 0.001, 0.001, 0.001, 0.001,
    0.001, 0.001, 0.001, 0.001, 0.001, 0.0005, 0.0005, 0.0005, 0.0005, 0.0005,
    0, 0, 0, 0, 0, 0, 0, 0, 0, 0,
    0, 0, 0, 0, 0, 0, 0, 0, 0, 0,
    0, 0, 0, 0, 0, 0, 0, 0, 0, 0,
    0, 0, 0, 0, 0, 0, 0, 0, 0, 0,
    0, 0, 0, 0, 0, 0, 0, 0, 0, 0,
    0, 0, 0, 0, 0, 0, 0, 0, 0, 0,
    0, 0, 0, 0, 0, 0, 0, 0, 0, 0,
    0, 0, 0, 0, 0, 0, 0, 0, 0, 0,
    0, 0, 0, 0, 0, 0, 0, 0, 0, 0,
    0, 0, 0, 0, 0, 0, 0, 0, 0, 0,
    0, 0, 0, 0, 0, 0, 0, 0, 0, 0,
    0, 0, 0, 0, 0, 0, 0, 0, 0, 0,
    0, 0, 0, 0, 0, 0, 0, 0, 0, 0,
    0,
]
GDI53 = [
    0.096, 0.0073, 0.0030, 0.0028, 0.0020, 0.0015, 0.0012, 0.0010, 0.0008, 0.0007,
    0.0006, 0.0005, 0.0005, 0.0005, 0.0005, 0.0004, 0.0004, 0.0004, 0.0004, 0.0004,
    0.0003, 0.0003, 0.0003, 0.0003, 0.0003, 0.0002, 0.0002, 0.0002, 0.0002, 0.0002,
    0.0001, 0.0001, 0.0001, 0.0001, 0.0001, 0.0001, 0.0001, 0.0001, 0.0001, 0.0001,
    0, 0, 0, 0, 0, 0, 0, 0, 0, 0,
    0, 0, 0, 0, 0, 0, 0, 0, 0, 0,
    0, 0, 0, 0, 0, 0, 0, 0, 0, 0,
    0, 0, 0, 0, 0, 0, 0, 0, 0, 0,
    0, 0, 0, 0, 0, 0, 0, 0, 0, 0,
    0, 0, 0, 0, 0, 0, 0, 0, 0, 0,
    0, 0, 0, 0, 0, 0, 0, 0, 0, 0,
    0, 0, 0, 0, 0, 0, 0, 0, 0, 0,
    0, 0, 0, 0, 0, 0, 0, 0, 0, 0,
    0, 0, 0, 0, 0, 0, 0, 0, 0, 0,
    0, 0, 0, 0, 0, 0, 0, 0, 0, 0,
    0, 0, 0, 0, 0, 0, 0, 0, 0, 0,
    0,
]
KSQ_DETW = [
    0.0, 0.001e15, 0.002e15, 0.001e15, 0.004e15, 0.006e15, 0.002e15, 0.010e15, 0.013e15, 0.004e15,
    0.020e15, 0.006e15, 0.030e15, 0.035e15, 0.009e15, 0.045e15, 0.050e15, 0.013e15, 0.065e15, 0.075e15,
    0.018e15, 0.10e15, 0.021e15, 0.13e15, 0.15e15, 0.027e15, 0.18e15, 0.031e15, 0.22e15, 0.036e15,
    0.27e15, 0.040e15, 0.043e15, 0.33e15, 0.048e15, 0.051e15, 0.38e15, 0.056e15, 0.059e15, 0.062e15,
    0.005e15, 0.49e15, 0.072e15, 0.55e15, 0.59e15, 0.082e15, 0.64e15, 0.089e15, 0.092e15, 0.096e15,
    0.10e15, 0.104e15, 0.11e15, 0.112e15, 0.12e15, 0.02e15, 0.124e15, 0.13e15, 0.96e15, 0.035e15,
    0.142e15, 0.15e15, 0.05e15, 0.156e15, 0.16e15, 0.17e15, 0.045e15, 1.27e15, 0.18e15, 0.19e15,
    0.19e15, 0.03e15, 0.20e15, 0.21e15, 0.04e15, 0.22e15, 1.58e15, 0.24e15, 0.25e15, 0.26e15,
    0.27e15, 0.28e15, 0.27e15, 0.29e15, 0.28e15, 0.30e15, 0.015e15, 0.31e15, 0.30e15, 0.32e15,
    0.025e15, 0.33e15, 0.03e15, 0.02e15, 0.34e15, 0.035e15, 0.36e15, 0.37e15, 0.03e15, 0.42e15,
    0.40e15, 0.04e15, 0.39e15, 0.045e15, 0.42e15, 0.035e15, 0.44e15, 0.05e15, 0.46e15, 0.04e15,
    0.06e15, 0.48e15, 0.50e15, 0.49e15, 0.52e15, 0.51e15, 0.03e15, 0.55e15, 0.58e15, 0.05e15,
    0.60e15, 0.57e15, 0.07e15, 0.055e15, 0.59e15, 0.045e15, 0.61e15, 0.62e15, 0.64e15, 0.04e15,
    0.65e15, 0.67e15, 0.06e15, 0.69e15, 0.70e15, 0.075e15, 0.72e15, 0.05e15, 0.75e15, 0.07e15,
    0.77e15, 0.085e15, 0.78e15, 0.06e15, 0.08e15, 0.72e15, 0.075e15, 0.83e15, 0.085e15, 0.86e15,
    0.87e15, 0.07e15, 0.88e15, 0.86e15, 0.09e15, 0.90e15, 0.08e15, 0.92e15, 0.16e15, 0.035e15,
    0.94e15,
]
LOG_DET_RATIO = [
    124, 315, 318, 461, 318, 321, 417, 318, 321, 466,
    321, 466, 318, 321, 452, 321, 321, 461, 321, 318,
    466, 321, 457, 321, 321, 466, 321, 461, 318, 417,
    321, 466, 452, 318, 466, 466, 321, 471, 466, 471,
    626, 321, 471, 318, 318, 447, 324, 471, 466, 457,
    461, 466, 471, 452, 417, 634, 457, 461, 324, 638,
    476, 452, 642, 461, 471, 452, 645, 324, 466, 471,
    457, 679, 471, 447, 675, 476, 324, 466, 452, 447,
    442, 461, 471, 442, 452, 447, 602, 457, 461, 442,
    697, 422, 690, 687, 476, 634, 466, 452, 638, 485,
    447, 594, 461, 638, 442, 661, 471, 687, 447, 694,
    683, 452, 442, 437, 471, 447, 598, 471, 452, 722,
    442, 447, 675, 649, 447, 657, 437, 442, 471, 638,
    437, 457, 715, 442, 447, 746, 442, 683, 452, 705,
    442, 743, 442, 548, 690, 471, 687, 452, 740, 447,
    442, 664, 442, 447, 526, 437, 715, 442, 606, 645,
    447,
]
LOG_SS_RATIO = [
    -1.85, -0.79, -0.78, -0.30, -0.78, -0.77, -0.42, -0.78, -0.77, -0.29,
    -0.77, -0.29, -0.78, -0.77, -0.33, -0.77, -0.77, -0.30, -0.77, -0.78,
    -0.29, -0.77, -0.31, -0.77, -0.77, -0.29, -0.77, -0.30, -0.78, -0.42,
    -0.77, -0.29, -0.33, -0.78, -0.29, -0.29, -0.77, -0.28, -0.29, -0.28,
    0.10, -0.77, -0.28, -0.78, -0.78, -0.34, -0.76, -0.28, -0.29, -0.31,
    -0.30, -0.29, -0.28, -0.33, -0.42, 0.12, -0.31, -0.30, -0.76, 0.13,
    -0.27, -0.33, 0.14, -0.30, -0.28, -0.33, 0.15, -0.76, -0.29, -0.28,
    -0.31, 0.22, -0.28, -0.34, 0.21, -0.27, -0.76, -0.29, -0.33, -0.34,
    -0.35, -0.30, -0.28, -0.35, -0.33, -0.34, 0.06, -0.31, -0.30, -0.35,
    0.27, -0.41, 0.25, 0.24, -0.27, 0.12, -0.29, -0.33, 0.13, -0.25,
    -0.34, 0.05, -0.30, 0.13, -0.35, 0.18, -0.28, 0.24, -0.34, 0.26,
    0.23, -0.33, -0.35, -0.36, -0.28, -0.34, 0.05, -0.28, -0.33, 0.31,
    -0.35, -0.34, 0.21, 0.16, -0.34, 0.17, -0.36, -0.35, -0.28, 0.13,
    -0.36, -0.31, 0.30, -0.35, -0.34, 0.35, -0.35, 0.23, -0.33, 0.28,
    -0.35, 0.35, -0.35, -0.07, 0.25, -0.28, 0.24, -0.33, 0.34, -0.34,
    -0.35, 0.19, -0.35, -0.34, -0.13, -0.36, 0.30, -0.35, 0.07, 0.15,
    -0.34,
]
MCCLAIN_RAO = [
    0.10, 0.097, 0.06, 0.065, 0.085, 0.12, 0.07, 0.12, 0.14, 0.11,
    0.19, 0.12, 0.27, 0.28, 0.17, 0.37, 0.36, 0.18, 0.45, 0.45,
    0.18, 0.54, 0.24, 0.48, 0.50, 0.27, 0.62, 0.25, 0.61, 0.26,
    0.62, 0.24, 0.28, 0.80, 0.36, 0.35, 0.72, 0.34, 0.16, 0.27,
    0.30, 0.93, 0.26, 1.02, 1.01, 0.29, 0.85, 0.25, 0.23, 0.30,
    0.28, 0.25, 0.42, 0.29, 0.43, 0.48, 0.27, 0.30, 1.17, 0.46,
    0.28, 0.32, 0.50, 0.34, 0.30, 0.36, 0.53, 1.27, 0.33, 0.38,
    0.40, 0.58, 0.35, 0.41, 0.57, 0.38, 1.44, 0.42, 0.36, 0.40,
    0.39, 0.44, 0.35, 0.43, 0.30, 0.47, 0.45, 0.38, 0.27, 0.41,
    0.62, 0.39, 0.50, 0.48, 0.43, 0.84, 0.40, 0.45, 0.69, 0.37,
    0.44, 0.52, 0.36, 0.70, 0.47, 0.55, 0.42, 0.56, 0.48, 0.44,
    0.53, 0.31, 0.50, 0.58, 0.46, 0.45, 0.76, 0.32, 0.40, 0.86,
    0.33, 0.45, 0.52, 0.56, 0.44, 0.51, 0.46, 0.38, 0.45, 0.66,
    0.55, 0.45, 0.59, 0.27, 0.45, 0.62, 0.26, 0.58, 0.48, 0.43,
    0.39, 0.53, 0.28, 0.49, 0.45, 0.34, 0.72, 0.36, 0.74, 0.38,
    0.45, 0.65, 0.31, 0.40, 0.58, 0.36, 0.73, 0.34, 0.71, 0.59,
    0.48,
]
PBM = [
    2.55e8, 7.25e8, 4.80e8, 3.00e8, 2.22e8, 1.65e8, 1.28e8, 0.88e8, 0.85e8, 0.66e8,
    0.56e8, 0.47e8, 0.41e8, 0.36e8, 0.31e8, 0.28e8, 0.25e8, 0.22e8, 0.20e8, 0.18e8,
    0.165e8, 0.15e8, 0.14e8, 0.13e8, 0.12e8, 0.11e8, 0.105e8, 0.10e8, 0.092e8, 0.086e8,
    0.081e8, 0.076e8, 0.072e8, 0.068e8, 0.064e8, 0.061e8, 0.058e8, 0.055e8, 0.052e8, 0.050e8,
    0.048e8, 0.046e8, 0.044e8, 0.042e8, 0.040e8, 0.039e8, 0.037e8, 0.036e8, 0.035e8, 0.034e8,
    0.033e8, 0.032e8, 0.031e8, 0.030e8, 0.029e8, 0.028e8, 0.027e8, 0.026e8, 0.026e8, 0.025e8,
    0.024e8, 0.024e8, 0.023e8, 0.022e8, 0.022e8, 0.021e8, 0.021e8, 0.020e8, 0.020e8, 0.019e8,
    0.019e8, 0.018e8, 0.018e8, 0.017e8, 0.017e8, 0.017e8, 0.016e8, 0.016e8, 0.016e8, 0.015e8,
    0.015e8, 0.015e8, 0.014e8, 0.014e8, 0.014e8, 0.013e8, 0.013e8, 0.013e8, 0.013e8, 0.012e8,
    0.012e8, 0.012e8, 0.012e8, 0.011e8, 0.011e8, 0.011e8, 0.011e8, 0.010e8, 0.010e8, 0.010e8,
    0.010e8, 0.010e8, 0.009e8, 0.009e8, 0.009e8, 0.009e8, 0.009e8, 0.009e8, 0.008e8, 0.008e8,
    0.008e8, 0.008e8, 0.008e8, 0.008e8, 0.008e8, 0.007e8, 0.007e8, 0.007e8, 0.007e8, 0.007e8,
    0.007e8, 0.007e8, 0.007e8, 0.006e8, 0.006e8, 0.006e8, 0.006e8, 0.006e8, 0.006e8, 0.006e8,
    0.006e8, 0.006e8, 0.006e8, 0.005e8, 0.005e8, 0.005e8, 0.005e8, 0.005e8, 0.005e8, 0.005e8,
    0.005e8, 0.005e8, 0.005e8, 0.005e8, 0.005e8, 0.004e8, 0.004e8, 0.004e8, 0.004e8, 0.004e8,
    0.004e8, 0.004e8, 0.004e8, 0.004e8, 0.004e8, 0.004e8, 0.004e8, 0.004e8, 0.004e8, 0.004e8,
    0.004e8,
]
POINT_BISERIAL = [
    -10320, -7680, -5830, -2830, -5190, -3585, -3400, -1360, -2075, -1170,
    -1600, -940, -1360, -1300, -1075, -950, -800, -1360, -750, -900,
    -830, -700, -650, -600, -925, -580, -550, -620, -510, -480,
    -520, -450, -390, -320, -480, -420, -360, -440, -390, -340,
    -400, -360, -300, 57, -380, -330, -280, 94, -350, -300,
    -260, -320, -295, -240, -300, -270, -230, 150, -290, -260,
    -220, -280, -250, -210, -270, -240, -200, -260, 245, -230,
    -190, -250, -220, -180, -240, -200, 380, -230, -190, -210,
    -200, -170, -190, -215, -165, -180, -200, -150, -175, -190,
    -140, -160, -175, -130, -155, -170, -125, -145, -160, -120,
    -135, -150, -110, -130, -145, -105, -125, -140, -100, -120,
    -130, -95, -115, -125, -90, -110, -120, -85, -105, -115,
    -80, -100, -110, -75, -95, -105, -70, -90, -100, -68,
    -85, -95, -65, -80, -90, -60, -78, -88, -58, -75,
    -85, -55, -70, -80, -52, -68, -75, -50, -65, -72,
    -48, -62, -70, -45, -60, -66, -42, -58, -62, -40,
    -55,
]
RATKOWSKY_LANCE = [
    0.2625, 0.3235, 0.2808, 0.2913, 0.2303, 0.2144, 0.2082, 0.2000, 0.1700, 0.1830,
    0.1720, 0.1610, 0.1680, 0.1450, 0.1580, 0.1400, 0.1450, 0.1330, 0.1400, 0.1260,
    0.1300, 0.1180, 0.1270, 0.1130, 0.1240, 0.1080, 0.1200, 0.1040, 0.1180, 0.1000,
    0.1170, 0.0970, 0.1150, 0.0940, 0.1130, 0.0910, 0.1110, 0.0890, 0.1090, 0.0870,
    0.1110, 0.0850, 0.1040, 0.0860, 0.1060, 0.0800, 0.0990, 0.0830, 0.1020, 0.0780,
    0.0960, 0.0800, 0.1000, 0.0750, 0.0940, 0.0790, 0.0980, 0.0730, 0.0920, 0.0770,
    0.0950, 0.0710, 0.0880, 0.0740, 0.0930, 0.0690, 0.0870, 0.0730, 0.0900, 0.0680,
    0.0890, 0.0700, 0.0830, 0.0660, 0.0860, 0.0690, 0.0810, 0.0650, 0.0780, 0.0700,
    0.0760, 0.0640, 0.0790, 0.0670, 0.0740, 0.0630, 0.0770, 0.0660, 0.0730, 0.0620,
    0.0760, 0.0650, 0.0720, 0.0610, 0.0740, 0.0640, 0.0700, 0.0600, 0.0730, 0.0630,
    0.0700, 0.0590, 0.0720, 0.0620, 0.0680, 0.0580, 0.0710, 0.0610, 0.0690, 0.0570,
    0.0700, 0.0600, 0.0660, 0.0560, 0.0690, 0.0590, 0.0670, 0.0550, 0.0650, 0.0580,
    0.0680, 0.0540, 0.0660, 0.0570, 0.0640, 0.0530, 0.0670, 0.0560, 0.0630, 0.0540,
    0.0650, 0.0520, 0.0620, 0.0550, 0.0640, 0.0510, 0.0610, 0.0540, 0.0630, 0.0500,
    0.0600, 0.0530, 0.0620, 0.0500, 0.0590, 0.0520, 0.0610, 0.0490, 0.0580, 0.0510,
    0.0600, 0.0490, 0.0570, 0.0510, 0.0600, 0.0480, 0.0580, 0.0500, 0.0560, 0.0490,
    0.0590,
]
RAY_TURI = [
    0.001e12, 0.002e12, 0.001e12, 0.002e12, 0.001e12, 0.002e12, 0.001e12, 0.002e12, 0.002e12, 0.001e12,
    0.002e12, 0.003e12, 0.002e12, 0.003e12, 0.002e12, 0.003e12, 0.004e12, 0.003e12, 0.004e12, 0.003e12,
    0.004e12, 0.005e12, 0.004e12, 0.006e12, 0.005e12, 0.007e12, 0.006e12, 3.2e12, INF, INF,
    0.004e12, INF, 0.005e12, INF, 0.02e12, 0.03e12, INF, 0.01e12, INF, INF,
    0.006e12, INF, 0.004e12, 0.008e12, 0.003e12, INF, INF, INF, INF, INF,
    INF, INF, INF, 0.003e12, INF, INF, INF, INF, INF, INF,
    0.76e12, 0.02e12, INF, INF, INF, INF, INF, INF, INF, INF,
    INF, INF, INF, INF, INF, INF, INF, INF, INF, INF,
    INF, INF, INF, INF, INF, INF, INF, INF, INF, INF,
    INF, INF, INF, INF, INF, INF, INF, INF, INF, INF,
    INF, INF, INF, INF, INF, INF, INF, INF, INF, INF,
    INF, INF, INF, INF, INF, INF, INF, INF, INF, INF,
    INF, INF, INF, INF, INF, INF, INF, INF, INF, INF,
    INF, INF, INF, INF, INF, INF, INF, INF, INF, INF,
    INF, INF, INF, INF, INF, INF, INF, INF, INF, INF,
    INF, INF, INF, INF, INF, INF, INF, INF, INF, INF,
    INF,
]
S_DBW = [
    0, 2, 6, 10, 16, 22, 30, 37, 45, 55,
    65, 76, 88, 100, 115, 130, 146, 162, 180, 198,
    218, 238, 260, 282, 305, 330, 355, 380, 405, 432,
    460, 490, INF, 550, 585, 615, 650, 685, 720, 760,
    800, 835, 870, 948, 1000, 1072, None, INF, 1100, INF,
    1127, INF, 1278, 1312, INF, None, None, None, INF, 1635,
    1704, None, None, INF, 1958, INF, None, None, 2254, None,
    None, INF, None, None, None, None, INF, 2756, None, INF,
    None, None, INF, None, None, None, None, None, None, None,
    None, None, 3890, None, None, None, INF, None, None, None,
    None, None, None, None, None, None, None, None, None, None,
    None, None, None, None, None, None, None, None, None, None,
    None, None, None, None, None, None, None, None, None, None,
    None, None, None, None, None, None, None, None, None, None,
    None, None, None, None, None, None, None, None, None, None,
    None, None, None, None, None, None, None, None, None, None,
    None,
]
SCOTT_SYMONS = [
    12730, 11960, 11470, 11320, 10980, 10390, 9960, 9970, 9670, 9560,
    9480, 9280, 9260, 9350, 9130, 9020, 8890, 8880, 8760, 8700,
    8680, 8660, 8720, NINF, 8670, NINF, NINF, NINF, NINF, 8280,
    NINF, NINF, 8460, NINF, NINF, 8300, NINF, NINF, NINF, NINF,
    NINF, NINF, NINF, 8130, NINF, NINF, NINF, NINF, NINF, NINF,
    NINF, NINF, NINF, NINF, NINF, NINF, NINF, NINF, NINF, NINF,
    NINF, 7860, NINF, NINF, NINF, NINF, NINF, NINF, NINF, NINF,
    NINF, NINF, NINF, NINF, NINF, NINF, NINF, NINF, NINF, NINF,
    NINF, NINF, NINF, NINF, NINF, NINF, NINF, NINF, NINF, NINF,
    NINF, NINF, NINF, NINF, NINF, NINF, NINF, NINF, NINF, NINF,
    NINF, NINF, NINF, NINF, NINF, NINF, NINF, NINF, NINF, NINF,
    NINF, NINF, NINF, NINF, NINF, NINF, NINF, NINF, NINF, NINF,
    NINF, NINF, NINF, NINF, NINF, NINF, NINF, NINF, NINF, NINF,
    NINF, NINF, NINF, NINF, NINF, NINF, NINF, NINF, NINF, NINF,
    NINF, NINF, NINF, NINF, NINF, NINF, NINF, NINF, NINF, NINF,
    NINF, NINF, NINF, NINF, NINF, NINF, NINF, NINF, NINF, NINF,
    NINF,
]
SD_DIS = [
    5, 3, 8, 4, 10, 6, 12, 5, 15, 8,
    20, 10, 25, 12, 18, 30, 15, 22, 40, 18,
    35, 25, 50, 30, 45, 20, 2165, INF, INF, 60,
    INF, 40, 90, 187, 273, 50, 43, 14, INF, 30,
    60, 187, 115, 90, 70, INF, INF, INF, INF, INF,
    INF, INF, INF, INF, 137, INF, INF, INF, INF, INF,
    4080, 690, INF, INF, INF, INF, INF, INF, INF, INF,
    INF, INF, INF, INF, INF, INF, INF, INF, INF, INF,
    INF, INF, INF, INF, INF, INF, INF, INF, INF, INF,
    INF, INF, INF, INF, INF, INF, INF, INF, INF, INF,
    INF, INF, INF, INF, INF, INF, INF, INF, INF, INF,
    INF, INF, INF, INF, INF, INF, INF, INF, INF, INF,
    INF, INF, INF, INF, INF, INF, INF, INF, INF, INF,
    INF, INF, INF, INF, INF, INF, INF, INF, INF, INF,
    INF, INF, INF, INF, INF, INF, INF, INF, INF, INF,
    INF, INF, INF, INF, INF, INF, INF, INF, INF, INF,
    INF,
]
SD_SCAT = [
    2.53, 4.76, 7.77, 3.64, 2.45, 2.09, 4.69, 1.83, 1.33, 3.96,
    1.23, 3.09, 0.96, 0.92, 3.36, 0.85, 0.76, 2.36, 0.63, 0.60,
    2.72, 0.55, 1.60, 0.49, 0.48, 1.49, 0.46, 1.43, 0.45, 1.38,
    0.44, 1.29, 1.25, 0.43, 1.20, 1.15, 0.40, 1.10, 1.05, 1.79,
    1.16, 0.36, 1.00, 0.35, 0.34, 0.98, 0.33, 0.95, 0.93, 1.10,
    1.33, 0.90, 0.88, 0.95, 0.85, 1.32, 0.84, 0.80, 0.27, 0.90,
    0.82, 0.78, 0.88, 0.75, 0.86, 0.72, 0.80, 0.23, 0.76, 0.70,
    0.74, 1.12, 0.68, 0.72, 0.85, 0.66, 0.20, 0.70, 0.62, 0.55,
    0.58, 0.66, 0.52, 0.62, 0.55, 0.60, 0.45, 0.56, 1.05, 0.95,
    0.48, 0.88, 0.42, 0.50, 0.80, 0.44, 0.70, 0.62, 0.46, 0.85,
    0.78, 0.40, 0.72, 0.45, 0.82, 0.38, 0.75, 0.43, 0.68, 0.40,
    0.42, 0.60, 0.85, 0.72, 0.66, 0.78, 0.38, 0.70, 0.88, 0.45,
    0.75, 0.62, 0.40, 0.36, 0.80, 0.42, 0.68, 0.55, 0.72, 0.38,
    0.66, 0.58, 0.40, 0.78, 0.70, 0.35, 0.62, 0.42, 0.75, 0.38,
    0.68, 0.36, 0.72, 0.40, 0.34, 0.65, 0.38, 0.58, 0.35, 0.70,
    0.62, 0.36, 0.55, 0.72, 0.34, 0.48, 0.37, 0.66, 0.35, 0.39,
    0.85,
]
SILHOUETTE = [
    0.167, 0.018, -0.047, -0.104, -0.192, -0.187, -0.226, -0.275, -0.272, -0.321,
    -0.325, -0.336, -0.350, None, -0.365, -0.378, -0.372, -0.378, None, -0.402,
    -0.385, -0.376, -0.355, -0.425, None, None, None, None, None, None,
    -0.447, None, None, -0.399, None, None, None, -0.426, None, None,
    None, None, -0.458, -0.462, None, None, None, None, None, None,
    None, None, None, None, None, None, None, None, None, None,
    -0.482, None, None, None, None, None, None, None, None, None,
    None, None, None, None, None, None, None, None, None, None,
    None, None, None, None, None, None, None, None, None, None,
    None, None, None, None, None, None, None, None, None, None,
    None, None, None, None, None, None, None, None, None, None,
    None, None, None, None, None, None, None, None, None, None,
    None, None, None, None, None, None, None, None, None, None,
    None, None, None, None, None, None, None, None, None, None,
    None, None, None, None, None, None, None, None, None, None,
    None, None, None, None, None, None, None, None, None, None,
    None,
]
TAU = [
    0.486, 0.509, 0.560, 0.556, 0.549, 0.486, 0.448, 0.316, 0.295, 0.209,
    0.290, 0.277, 0.168, 0.250, 0.212, 0.261, 0.136, 0.209, 0.210, 0.152,
    0.152, 0.163, 0.140, 0.138, 0.161, 0.150, 0.125, 0.160, 0.140, 0.108,
    0.130, 0.100, 0.120, 0.090, 0.110, 0.135, 0.120, 0.105, 0.100, 0.175,
    0.168, 0.150, 0.080, 0.095, 0.110, 0.088, 0.100, 0.092, 0.118, 0.085,
    0.105, 0.112, 0.090, 0.098, 0.125, 0.080, 0.100, 0.088, 0.107, 0.072,
    0.095, 0.083, 0.110, 0.078, 0.090, 0.100, 0.070, 0.088, 0.082, 0.095,
    0.065, 0.085, 0.078, 0.092, 0.068, 0.080, 0.063, 0.075, 0.085, 0.070,
    0.078, 0.094, 0.072, 0.068, 0.082, 0.075, 0.065, 0.088, 0.070, 0.078,
    0.062, 0.075, 0.048, 0.080, 0.068, 0.072, 0.085, 0.060, 0.050, 0.070,
    0.064, 0.058, 0.078, 0.062, 0.070, 0.055, 0.066, 0.072, 0.060, 0.065,
    0.058, 0.068, 0.062, 0.074, 0.055, 0.060, 0.046, 0.068, 0.072, 0.058,
    0.062, 0.055, 0.066, 0.060, 0.070, 0.052, 0.064, 0.058, 0.048, 0.067,
    0.060, 0.054, 0.062, 0.070, 0.056, 0.048, 0.063, 0.058, 0.052, 0.066,
    0.055, 0.060, 0.050, 0.058, 0.062, 0.045, 0.056, 0.052, 0.060, 0.048,
    0.054, 0.050, 0.057, 0.035, 0.052, 0.047, 0.055, 0.043, 0.040, 0.046,
    0.044,
]
TRACE_W = [
    4.75e11, 2.64e11, 2.63e11, 4.5e10, 2.63e11, 2.62e11, 4.6e10, 2.62e11, 2.62e11, 4.4e10,
    2.62e11, 4.3e10, 2.61e11, 2.62e11, 4.1e10, 2.61e11, 2.62e11, 4.4e10, 2.61e11, 2.61e11,
    4.2e10, 2.61e11, 4.4e10, 2.61e11, 2.61e11, 4.3e10, 2.60e11, 4.2e10, 2.61e11, 4.4e10,
    2.61e11, 4.3e10, 4.1e10, 2.60e11, 4.4e10, 4.2e10, 2.61e11, 4.3e10, 4.0e10, 4.2e10,
    0.5e10, 2.60e11, 4.1e10, 2.61e11, 2.60e11, 3.8e10, 2.60e11, 4.0e10, 3.6e10, 4.1e10,
    3.9e10, 3.7e10, 4.2e10, 3.9e10, 4.3e10, 0.6e10, 3.8e10, 4.0e10, 2.59e11, 0.9e10,
    3.7e10, 4.1e10, 1.0e10, 3.8e10, 3.5e10, 4.0e10, 0.8e10, 2.59e11, 3.9e10, 4.2e10,
    3.6e10, 0.7e10, 3.8e10, 4.1e10, 0.9e10, 3.7e10, 2.59e11, 4.0e10, 3.6e10, 4.2e10,
    4.1e10, 3.7e10, 4.3e10, 3.9e10, 4.0e10, 3.6e10, 0.3e10, 3.8e10, 4.2e10, 3.5e10,
    0.4e10, 3.9e10, 0.5e10, 0.4e10, 4.4e10, 0.6e10, 4.0e10, 3.6e10, 0.5e10, 3.8e10,
    3.9e10, 0.5e10, 3.7e10, 0.6e10, 4.0e10, 0.8e10, 4.2e10, 0.5e10, 3.5e10, 0.4e10,
    0.6e10, 3.8e10, 4.1e10, 3.7e10, 4.0e10, 3.6e10, 0.3e10, 3.9e10, 4.3e10, 0.4e10,
    3.7e10, 3.6e10, 0.4e10, 0.5e10, 3.4e10, 0.6e10, 3.5e10, 3.8e10, 3.6e10, 0.3e10,
    3.5e10, 3.7e10, 0.4e10, 3.8e10, 3.4e10, 0.3e10, 3.6e10, 0.5e10, 3.9e10, 0.4e10,
    3.6e10, 0.4e10, 3.5e10, 0.3e10, 0.5e10, 3.7e10, 0.4e10, 3.6e10, 0.6e10, 3.5e10,
    3.7e10, 0.4e10, 3.6e10, 3.5e10, 0.5e10, 3.6e10, 0.4e10, 3.5e10, 0.7e10, 0.6e10,
    3.6e10,
]
TRACE_WIB = [
    0.16, 0.46, 0.465, 0.74, 0.465, 0.47, 0.65, 0.465, 0.47, 0.75,
    0.47, 0.75, 0.465, 0.47, 0.72, 0.47, 0.47, 0.74, 0.47, 0.465,
    0.75, 0.47, 0.73, 0.47, 0.47, 0.75, 0.47, 0.74, 0.465, 0.65,
    0.47, 0.75, 0.72, 0.465, 0.75, 0.75, 0.47, 0.76, 0.75, 0.76,
    1.12, 0.47, 0.76, 0.465, 0.465, 0.71, 0.475, 0.76, 0.75, 0.73,
    0.74, 0.75, 0.76, 0.72, 0.65, 1.14, 0.73, 0.74, 0.475, 1.15,
    0.77, 0.72, 1.16, 0.74, 0.76, 0.72, 1.17, 0.475, 0.75, 0.76,
    0.73, 1.26, 0.76, 0.71, 1.25, 0.77, 0.475, 0.75, 0.72, 0.71,
    0.70, 0.74, 0.76, 0.70, 0.72, 0.71, 1.06, 0.73, 0.74, 0.70,
    1.31, 0.66, 1.29, 1.28, 0.77, 1.14, 0.75, 0.72, 1.15, 0.79,
    0.71, 1.04, 0.74, 1.15, 0.70, 1.21, 0.76, 1.28, 0.71, 1.30,
    1.27, 0.72, 0.70, 0.69, 0.76, 0.71, 1.05, 0.76, 0.72, 1.38,
    0.70, 0.71, 1.25, 1.18, 0.71, 1.20, 0.69, 0.70, 0.76, 1.15,
    0.69, 0.73, 1.36, 0.70, 0.71, 1.45, 0.70, 1.27, 0.72, 1.33,
    0.70, 1.44, 0.70, 0.93, 1.29, 0.76, 1.28, 0.72, 1.43, 0.71,
    0.70, 1.22, 0.70, 0.71, 0.88, 0.69, 1.36, 0.70, 1.07, 1.17,
    0.71,
]
WEMMERT_GANCARSKI = [
    0.805, 0.60, 0.42, 0.415, 0, 0, 0, 0, 0, 0,
    0, 0, 0, 0, 0, 0, 0, 0, 0, 0,
    0, 0, 0, 0, 0, 0, 0, 0, 0, 0,
    0, 0, 0, 0, 0, 0, 0, 0, 0, 0,
    0, 0, 0, 0, 0, None, None, None, None, None,
    None, None, None, None, 0, None, None, None, None, None,
    0, None, None, None, None, None, None, None, None, None,
    None, None, None, None, None, None, None, None, None, None,
    None, None, None, None, None, None, None, None, None, None,
    None, None, None, None, None, None, None, None, None, None,
    None, None, None, None, None, None, None, None, None, None,
    None, None, None, None, None, None, None, None, None, None,
    None, None, None, None, None, None, None, None, None, None,
    None, None, None, None, None, None, None, None, None, None,
    None, None, None, None, None, None, None, None, None, None,
    None, None, None, None, None, None, None, None, None, None,
    None,
]
XIE_BENI = [
    None, None, None, None, None, None, None, None, None, None,
    None, None, None, None, None, None, None, None, None, None,
    None, None, None, None, None, None, None, None, None, None,
    None, None, None, None, None, None, None, None, None, None,
    None, None, None, None, None, None, None, None, None, None,
    None, None, None, None, None, None, None, None, None, None,
    None, None, None, None, None, None, None, None, None, None,
    None, None, None, None, None, None, None, None, None, None,
    None, None, None, None, None, None, None, None, None, None,
    None, None, None, None, None, None, None, None, None, None,
    None, None, None, None, None, None, None, None, None, None,
    None, None, None, None, None, None, None, None, None, None,
    None, None, None, None, None, None, None, None, None, None,
    None, None, None, None, None, None, None, None, None, None,
    None, None, None, None, None, None, None, None, None, None,
    None, None, None, None, None, None, None, None, None, None,
    None,
]

# ---------------------------------------------------------------- y tick labels
T_BALL_HALL = ["0.0e+00", "5.0e+08", "1.0e+09", "1.5e+09", "2.0e+09"]
T_BANFELD = ["8000", "9000", "10000", "11000", "12000"]
T_C_INDEX = ["0.04", "0.08", "0.12"]
T_CALINSKI = ["0", "50", "100", "150"]
T_DAVIES = ["0", "2000", "4000", "6000"]
T_DET = ["1.5", "2.0"]
T_ZERO = ["-0.050", "-0.025", "0.000", "0.025", "0.050"]
T_G_PLUS = ["0.02", "0.04", "0.06", "0.08"]
T_GAMMA = ["0.4", "0.6", "0.8"]
T_GDI21 = ["0.00", "0.25", "0.50", "0.75", "1.00"]
T_GDI22 = ["0", "5", "10", "15"]
T_GDI23 = ["0", "2", "4"]
T_GDI31 = ["0.00", "0.02", "0.04", "0.06"]
T_GDI32 = ["0.0", "0.5", "1.0"]
T_GDI33 = ["0.0", "0.1", "0.2", "0.3", "0.4"]
T_GDI51 = ["0.000", "0.005", "0.010", "0.015"]
T_GDI52 = ["0.0", "0.1", "0.2", "0.3"]
T_GDI53 = ["0.000", "0.025", "0.050", "0.075", "0.100"]
T_KSQ = ["0.0e+00", "5.0e+14", "1.0e+15", "1.5e+15"]
T_LOG_DET = ["200", "400", "600"]
T_LOG_SS = ["-1.5", "-1.0", "-0.5", "0.0"]
T_MCCLAIN = ["0.0", "0.5", "1.0", "1.5"]
T_PBM = ["0e+00", "2e+08", "4e+08", "6e+08"]
T_POINT_BIS = ["-10000", "-7500", "-5000", "-2500", "0"]
T_RATKOWSKY = ["0.1", "0.2", "0.3"]
T_RAY_TURI = ["0e+00", "1e+12", "2e+12", "3e+12"]
T_S_DBW = ["0", "1000", "2000", "3000", "4000"]
T_SD_DIS = ["0", "1000", "2000", "3000", "4000"]
T_SD_SCAT = ["0", "2", "4", "6", "8"]
T_SILHOUETTE = ["-0.4", "-0.2", "0.0"]
T_TAU = ["0.1", "0.2", "0.3", "0.4", "0.5"]
T_TRACE_W = ["0e+00", "1e+11", "2e+11", "3e+11", "4e+11"]
T_TRACE_WIB = ["0.5", "1.0"]
T_WEMMERT = ["0.0", "0.2", "0.4", "0.6", "0.8"]
T_NONE = []

PANELS = [
    ("ball_hall", BALL_HALL, T_BALL_HALL),
    ("banfeld_raftery", BANFELD_RAFTERY, T_BANFELD),
    ("c_index", C_INDEX, T_C_INDEX),
    ("calinski_harabasz", CALINSKI_HARABASZ, T_CALINSKI),
    ("davies_bouldin", DAVIES_BOULDIN, T_DAVIES),
    ("det_ratio", DET_RATIO, T_DET),
    ("dunn", DUNN, T_ZERO),
    ("g_plus", G_PLUS, T_G_PLUS),
    ("gamma", GAMMA, T_GAMMA),
    ("gdi11", GDI11, T_ZERO),
    ("gdi12", GDI12, T_ZERO),
    ("gdi13", GDI13, T_ZERO),
    ("gdi21", GDI21, T_GDI21),
    ("gdi22", GDI22, T_GDI22),
    ("gdi23", GDI23, T_GDI23),
    ("gdi31", GDI31, T_GDI31),
    ("gdi32", GDI32, T_GDI32),
    ("gdi33", GDI33, T_GDI33),
    ("gdi41", GDI41, T_GDI31),
    ("gdi42", GDI42, T_GDI32),
    ("gdi43", GDI43, T_GDI33),
    ("gdi51", GDI51, T_GDI51),
    ("gdi52", GDI52, T_GDI52),
    ("gdi53", GDI53, T_GDI53),
    ("ksq_detw", KSQ_DETW, T_KSQ),
    ("log_det_ratio", LOG_DET_RATIO, T_LOG_DET),
    ("log_ss_ratio", LOG_SS_RATIO, T_LOG_SS),
    ("mcclain_rao", MCCLAIN_RAO, T_MCCLAIN),
    ("pbm", PBM, T_PBM),
    ("point_biserial", POINT_BISERIAL, T_POINT_BIS),
    ("ratkowsky_lance", RATKOWSKY_LANCE, T_RATKOWSKY),
    ("ray_turi", RAY_TURI, T_RAY_TURI),
    ("s_dbw", S_DBW, T_S_DBW),
    ("scott_symons", SCOTT_SYMONS, T_BANFELD),
    ("sd_dis", SD_DIS, T_SD_DIS),
    ("sd_scat", SD_SCAT, T_SD_SCAT),
    ("silhouette", SILHOUETTE, T_SILHOUETTE),
    ("tau", TAU, T_TAU),
    ("trace_w", TRACE_W, T_TRACE_W),
    ("trace_wib", TRACE_WIB, T_TRACE_WIB),
    ("wemmert_gancarski", WEMMERT_GANCARSKI, T_WEMMERT),
    ("xie_beni", XIE_BENI, T_NONE),
]

for _name, _vals, _t in PANELS:
    assert len(_vals) == len(K), (_name, len(_vals))

# ---------------------------------------------------------------- layout / style
FIG_W = FIG_H = 1600
COL_LEFT = [76.0, 302.0, 524.0, 755.1, 977.0, 1199.0, 1420.0]
PANEL_W = 171.4
ROW_TOP = [32.3, 290.9, 549.5, 808.1, 1066.7, 1325.3]
STRIP_H = 23.4
PANEL_H = 207.6
FONT = "Liberation Sans, Arial, Helvetica, sans-serif"
TICK_FONT = dict(family=FONT, size=11.7, color="#4D4D4D")
GRID_W = 1.45
MINOR_W = 0.72


def padded_range(values):
    fin = [v for v in values if v is not None and math.isfinite(v)]
    if not fin:
        return None
    lo, hi = min(fin), max(fin)
    if hi == lo:
        return [lo - 0.05, hi + 0.05]
    pad = 0.05 * (hi - lo)
    return [lo - pad, hi + pad]


def minor_positions(major, rng):
    if len(major) < 2:
        return []
    step = major[1] - major[0]
    out = []
    j = 0
    while True:
        m = major[0] - step / 2 + (j - 10) * step
        if m > rng[1]:
            break
        if m >= rng[0] and all(abs(m - t) > step * 1e-6 for t in major):
            out.append(m)
        j += 1
    return out


X_RANGE = padded_range(K)
X_TICKVALS = [float(t) for t in X_TICK_LABELS]
X_MINOR = minor_positions(X_TICKVALS, X_RANGE)

fig = go.Figure()
shapes = []
annotations = []
axes = {}

for i, (name, vals, yticks) in enumerate(PANELS):
    n = i + 1
    r, c = divmod(i, 7)
    left = COL_LEFT[c]
    right = left + PANEL_W
    strip_top = ROW_TOP[r]
    ptop = strip_top + STRIP_H
    pbot = ptop + PANEL_H
    sfx = "" if n == 1 else str(n)

    yr = padded_range(vals)
    has_data = yr is not None
    if not has_data:
        yr = [0, 1]
    ytv = [float(t) for t in yticks]

    axes["xaxis" + sfx] = dict(
        domain=[left / FIG_W, right / FIG_W], anchor="y" + sfx,
        range=X_RANGE, tickmode="array", tickvals=X_TICKVALS, ticktext=X_TICK_LABELS,
        ticks="outside", ticklen=3.7, tickwidth=GRID_W, tickcolor="#333333",
        ticklabelstandoff=-2,
        showgrid=True, gridcolor="white", gridwidth=GRID_W,
        minor=dict(tickmode="array", tickvals=X_MINOR, showgrid=True,
                   gridcolor="white", gridwidth=MINOR_W, ticks=""),
        zeroline=False, showline=False, tickfont=TICK_FONT,
        automargin=False, fixedrange=True,
    )
    axes["yaxis" + sfx] = dict(
        domain=[1 - pbot / FIG_H, 1 - ptop / FIG_H], anchor="x" + sfx,
        range=yr, tickmode="array", tickvals=ytv, ticktext=yticks,
        ticks="outside" if ytv else "", ticklen=3.7, tickwidth=GRID_W, tickcolor="#333333",
        showgrid=bool(ytv), gridcolor="white", gridwidth=GRID_W,
        minor=dict(tickmode="array", tickvals=minor_positions(ytv, yr), showgrid=bool(ytv),
                   gridcolor="white", gridwidth=MINOR_W, ticks=""),
        zeroline=False, showline=False, tickfont=TICK_FONT,
        showticklabels=bool(ytv), automargin=False, fixedrange=True,
    )

    ys = []
    for v in vals:
        if v is None:
            ys.append(None)
        elif v == INF:
            ys.append(yr[1])
        elif v == NINF:
            ys.append(yr[0])
        else:
            ys.append(v)
    fig.add_trace(go.Scatter(
        x=K, y=ys, mode="markers", xaxis="x" + sfx, yaxis="y" + sfx,
        marker=dict(size=3.9, color="black", line=dict(width=0)),
        showlegend=False, hoverinfo="skip", cliponaxis=True,
    ))
    if has_data:
        shapes.append(dict(
            type="line", xref="x" + sfx, yref="y" + sfx + " domain",
            x0=VLINE_K, x1=VLINE_K, y0=0, y1=1,
            line=dict(color="black", width=1.45), layer="above",
        ))

    shapes.append(dict(
        type="rect", xref="paper", yref="paper",
        x0=left / FIG_W, x1=right / FIG_W,
        y0=1 - (strip_top + STRIP_H) / FIG_H, y1=1 - strip_top / FIG_H,
        fillcolor="#D9D9D9", line=dict(width=0), layer="below",
    ))
    annotations.append(dict(
        text=name, xref="paper", yref="paper",
        x=(left + right) / 2 / FIG_W, y=1 - (strip_top + STRIP_H / 2) / FIG_H,
        xanchor="center", yanchor="middle", showarrow=False,
        font=dict(family=FONT, size=12.1, color="#1A1A1A"),
    ))

annotations.append(dict(
    text=TITLE, xref="paper", yref="paper", x=COL_LEFT[0] / FIG_W, y=1 - 15.5 / FIG_H,
    xanchor="left", yanchor="middle", showarrow=False,
    font=dict(family=FONT, size=18.1, color="black"),
))
annotations.append(dict(
    text=X_TITLE, xref="paper", yref="paper",
    x=(COL_LEFT[0] + COL_LEFT[-1] + PANEL_W) / 2 / FIG_W, y=1 - 1584 / FIG_H,
    xanchor="center", yanchor="middle", showarrow=False,
    font=dict(family=FONT, size=14.7, color="black"),
))
annotations.append(dict(
    text=Y_TITLE, xref="paper", yref="paper",
    x=15.5 / FIG_W, y=1 - (ROW_TOP[0] + ROW_TOP[-1] + STRIP_H + PANEL_H) / 2 / FIG_H,
    xanchor="center", yanchor="middle", showarrow=False, textangle=-90,
    font=dict(family=FONT, size=14.7, color="black"),
))

fig.update_layout(
    width=FIG_W, height=FIG_H,
    margin=dict(l=0, r=0, t=0, b=0),
    paper_bgcolor="white", plot_bgcolor="#EBEBEB",
    showlegend=False, shapes=shapes, annotations=annotations,
    font=dict(family=FONT),
    **axes,
)

fig.write_html("out.html", include_plotlyjs=True, config={"displayModeBar": False})
